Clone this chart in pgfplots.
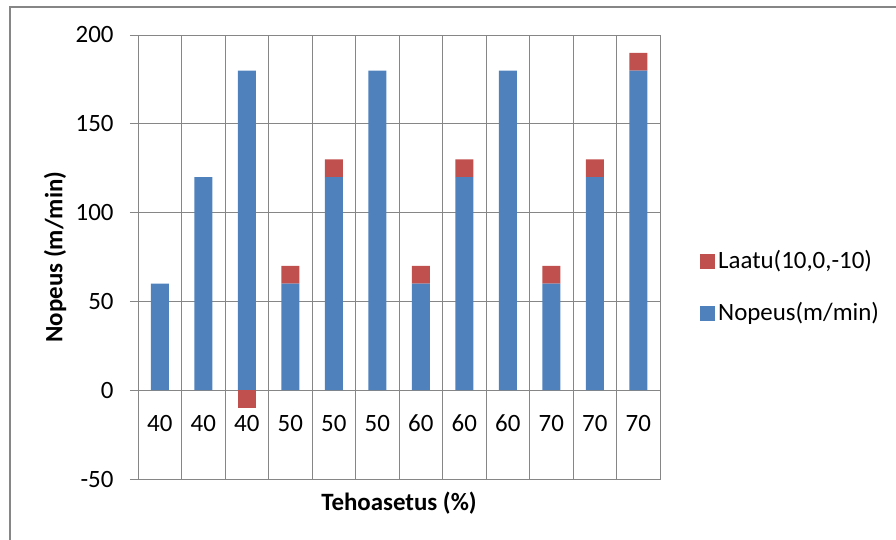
\documentclass[border=0pt]{standalone}
\usepackage{pgfplots}
\pgfplotsset{compat=1.18}
\usepackage{fontspec}
\setmainfont{Carlito}
\definecolor{nblue}{RGB}{79,129,189}
\definecolor{lred}{RGB}{192,80,77}
\definecolor{gridc}{RGB}{134,134,134}
\definecolor{framec}{RGB}{134,134,134}
\begin{document}
\fontsize{25}{29}\selectfont
\begin{tikzpicture}
\useasboundingbox (0bp,0bp) rectangle (896bp,-540bp);
\draw[framec, line width=2bp] (9.5bp,-540bp) -- (9.5bp,-7bp) -- (896bp,-7bp);
\pgfplotsset{chartbase/.style={
  scale only axis, width=522bp, height=444bp,
  at={(138bp,-479bp)}, anchor=south west,
  xmin=-0.5, xmax=11.5, ymin=-50, ymax=200, bar width=18bp}}
\begin{axis}[chartbase, ybar stacked,
  axis line style={gridc, line width=0.75bp},
  xtick={0,...,11},
  xticklabels={40,40,40,50,50,50,60,60,60,70,70,70},
  minor xtick={-0.5,0.5,...,11.5},
  xminorgrids,
  minor grid style={gridc, line width=0.75bp},
  ytick={-50,0,...,200},
  ymajorgrids,
  major grid style={gridc, line width=0.75bp},
  tick align=outside,
  major tick length=8bp,
  minor tick length=0pt,
  xtick style={draw=none},
  ytick style={gridc, line width=0.75bp},
  tick pos=left,
  /pgf/number format/assume math mode=true,
  xticklabel style={anchor=center, yshift=64bp},
  yticklabel style={xshift=-8bp},
  every axis y label/.style={at={(axis description cs:-0.159,0.5)}, rotate=90, anchor=center, font=\bfseries},
  every axis x label/.style={at={(axis description cs:0.5,0)}, anchor=center, yshift=-24bp, font=\bfseries},
  ylabel={Nopeus (m/min)},
  xlabel={Tehoasetus (\%)},
  reverse legend,
  legend image code/.code={\fill[#1] (0bp,-7.5bp) rectangle (15bp,7.5bp);},
  legend style={draw=none, fill=none, at={(axis description cs:1.0766,0.431)}, anchor=west, row sep=24bp, inner sep=0pt, nodes={inner sep=3bp}},
  legend cell align=left,
]
\addplot[fill=nblue, draw=none] coordinates {(0,60) (1,120) (2,180) (3,60) (4,120) (5,180) (6,60) (7,120) (8,180) (9,60) (10,120) (11,180)};
\addlegendentry{Nopeus(m/min)}
\addplot[fill=lred, draw=none] coordinates {(0,0) (1,0) (2,0) (3,10) (4,10) (5,0) (6,10) (7,10) (8,0) (9,10) (10,10) (11,10)};
\addlegendentry{Laatu(10,0,-10)}
\end{axis}
\begin{axis}[chartbase, hide axis, ybar, bar shift=0pt]
\addplot[fill=lred, draw=none] coordinates {(2,-10)};
\end{axis}
\end{tikzpicture}
\end{document}
